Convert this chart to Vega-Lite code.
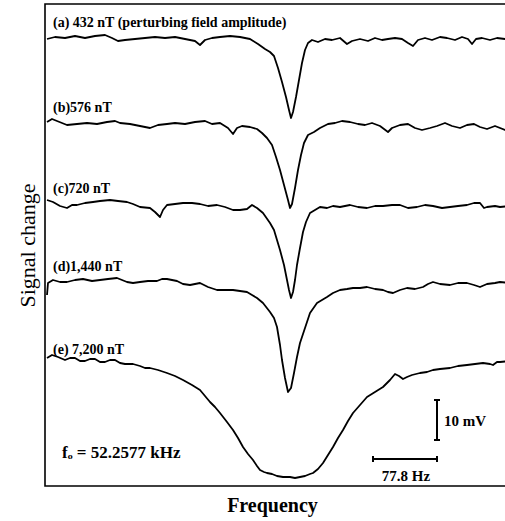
{
  "$schema": "https://vega.github.io/schema/vega-lite/v6.json",
  "width": 465,
  "height": 482,
  "autosize": "none",
  "padding": {"left": 45, "top": 4, "right": 0, "bottom": 35},
  "background": "white",
  "config": {
    "view": {"stroke": "black", "strokeWidth": 1.6},
    "axis": {"grid": false, "ticks": false, "labels": false, "domain": false, "titleColor": "black", "titleFont": "Liberation Serif"}
  },
  "datasets": {
    "traces": [
      {"t":"a","x":47,"y":-39},{"t":"a","x":55,"y":-37},{"t":"a","x":65,"y":-38},{"t":"a","x":75,"y":-36},{"t":"a","x":85,"y":-38},{"t":"a","x":95,"y":-36},{"t":"a","x":105,"y":-35},{"t":"a","x":112,"y":-38},{"t":"a","x":118,"y":-41},{"t":"a","x":125,"y":-40},{"t":"a","x":135,"y":-39},{"t":"a","x":145,"y":-38},{"t":"a","x":155,"y":-37},{"t":"a","x":165,"y":-38},{"t":"a","x":175,"y":-37},{"t":"a","x":185,"y":-39},{"t":"a","x":195,"y":-41},{"t":"a","x":200,"y":-45},{"t":"a","x":205,"y":-40},{"t":"a","x":212,"y":-38},{"t":"a","x":220,"y":-37},{"t":"a","x":230,"y":-36},{"t":"a","x":240,"y":-37},{"t":"a","x":250,"y":-39},{"t":"a","x":258,"y":-44},{"t":"a","x":265,"y":-49},{"t":"a","x":270,"y":-52},{"t":"a","x":274,"y":-56},{"t":"a","x":278,"y":-68},{"t":"a","x":282,"y":-82},{"t":"a","x":286,"y":-97},{"t":"a","x":289,"y":-110},{"t":"a","x":291,"y":-118},{"t":"a","x":293,"y":-112},{"t":"a","x":296,"y":-97},{"t":"a","x":299,"y":-80},{"t":"a","x":302,"y":-63},{"t":"a","x":305,"y":-50},{"t":"a","x":308,"y":-43},{"t":"a","x":312,"y":-40},{"t":"a","x":318,"y":-42},{"t":"a","x":325,"y":-39},{"t":"a","x":332,"y":-40},{"t":"a","x":340,"y":-38},{"t":"a","x":347,"y":-44},{"t":"a","x":352,"y":-41},{"t":"a","x":360,"y":-39},{"t":"a","x":368,"y":-41},{"t":"a","x":375,"y":-38},{"t":"a","x":382,"y":-40},{"t":"a","x":388,"y":-39},{"t":"a","x":395,"y":-38},{"t":"a","x":402,"y":-39},{"t":"a","x":408,"y":-43},{"t":"a","x":413,"y":-46},{"t":"a","x":418,"y":-40},{"t":"a","x":425,"y":-38},{"t":"a","x":432,"y":-40},{"t":"a","x":440,"y":-37},{"t":"a","x":447,"y":-38},{"t":"a","x":455,"y":-40},{"t":"a","x":462,"y":-37},{"t":"a","x":468,"y":-39},{"t":"a","x":472,"y":-44},{"t":"a","x":476,"y":-39},{"t":"a","x":482,"y":-38},{"t":"a","x":490,"y":-40},{"t":"a","x":497,"y":-38},{"t":"a","x":505,"y":-39},{"t":"a","x":510,"y":-38},
      {"t":"b","x":47,"y":-122},{"t":"b","x":52,"y":-119},{"t":"b","x":57,"y":-121},{"t":"b","x":67,"y":-125},{"t":"b","x":77,"y":-124},{"t":"b","x":87,"y":-123},{"t":"b","x":97,"y":-124},{"t":"b","x":107,"y":-122},{"t":"b","x":115,"y":-121},{"t":"b","x":120,"y":-123},{"t":"b","x":130,"y":-124},{"t":"b","x":140,"y":-126},{"t":"b","x":150,"y":-128},{"t":"b","x":158,"y":-125},{"t":"b","x":167,"y":-124},{"t":"b","x":175,"y":-123},{"t":"b","x":185,"y":-124},{"t":"b","x":195,"y":-122},{"t":"b","x":205,"y":-121},{"t":"b","x":212,"y":-124},{"t":"b","x":220,"y":-123},{"t":"b","x":228,"y":-128},{"t":"b","x":233,"y":-134},{"t":"b","x":237,"y":-128},{"t":"b","x":242,"y":-126},{"t":"b","x":250,"y":-127},{"t":"b","x":257,"y":-129},{"t":"b","x":262,"y":-133},{"t":"b","x":267,"y":-138},{"t":"b","x":272,"y":-145},{"t":"b","x":276,"y":-157},{"t":"b","x":280,"y":-170},{"t":"b","x":284,"y":-185},{"t":"b","x":288,"y":-200},{"t":"b","x":290,"y":-208},{"t":"b","x":292,"y":-204},{"t":"b","x":295,"y":-188},{"t":"b","x":298,"y":-170},{"t":"b","x":301,"y":-155},{"t":"b","x":304,"y":-143},{"t":"b","x":308,"y":-135},{"t":"b","x":314,"y":-132},{"t":"b","x":320,"y":-128},{"t":"b","x":328,"y":-124},{"t":"b","x":335,"y":-123},{"t":"b","x":342,"y":-121},{"t":"b","x":350,"y":-122},{"t":"b","x":358,"y":-124},{"t":"b","x":365,"y":-125},{"t":"b","x":372,"y":-123},{"t":"b","x":380,"y":-126},{"t":"b","x":388,"y":-132},{"t":"b","x":392,"y":-128},{"t":"b","x":400,"y":-125},{"t":"b","x":408,"y":-124},{"t":"b","x":415,"y":-128},{"t":"b","x":422,"y":-130},{"t":"b","x":430,"y":-128},{"t":"b","x":437,"y":-126},{"t":"b","x":445,"y":-123},{"t":"b","x":452,"y":-126},{"t":"b","x":460,"y":-128},{"t":"b","x":467,"y":-125},{"t":"b","x":474,"y":-124},{"t":"b","x":480,"y":-127},{"t":"b","x":487,"y":-129},{"t":"b","x":495,"y":-126},{"t":"b","x":505,"y":-130},{"t":"b","x":510,"y":-128},
      {"t":"c","x":47,"y":-200},{"t":"c","x":53,"y":-202},{"t":"c","x":60,"y":-206},{"t":"c","x":67,"y":-208},{"t":"c","x":72,"y":-205},{"t":"c","x":77,"y":-205},{"t":"c","x":85,"y":-203},{"t":"c","x":93,"y":-202},{"t":"c","x":100,"y":-201},{"t":"c","x":110,"y":-200},{"t":"c","x":118,"y":-201},{"t":"c","x":127,"y":-202},{"t":"c","x":133,"y":-204},{"t":"c","x":140,"y":-207},{"t":"c","x":150,"y":-208},{"t":"c","x":155,"y":-212},{"t":"c","x":160,"y":-217},{"t":"c","x":163,"y":-210},{"t":"c","x":167,"y":-205},{"t":"c","x":175,"y":-204},{"t":"c","x":183,"y":-203},{"t":"c","x":192,"y":-203},{"t":"c","x":200,"y":-204},{"t":"c","x":208,"y":-206},{"t":"c","x":217,"y":-205},{"t":"c","x":225,"y":-207},{"t":"c","x":233,"y":-210},{"t":"c","x":240,"y":-210},{"t":"c","x":247,"y":-209},{"t":"c","x":252,"y":-205},{"t":"c","x":257,"y":-208},{"t":"c","x":263,"y":-213},{"t":"c","x":270,"y":-223},{"t":"c","x":274,"y":-230},{"t":"c","x":277,"y":-240},{"t":"c","x":280,"y":-250},{"t":"c","x":284,"y":-265},{"t":"c","x":287,"y":-280},{"t":"c","x":289,"y":-290},{"t":"c","x":291,"y":-298},{"t":"c","x":293,"y":-292},{"t":"c","x":295,"y":-280},{"t":"c","x":297,"y":-265},{"t":"c","x":300,"y":-248},{"t":"c","x":303,"y":-232},{"t":"c","x":306,"y":-222},{"t":"c","x":310,"y":-213},{"t":"c","x":315,"y":-210},{"t":"c","x":320,"y":-207},{"t":"c","x":327,"y":-208},{"t":"c","x":333,"y":-206},{"t":"c","x":340,"y":-207},{"t":"c","x":350,"y":-205},{"t":"c","x":358,"y":-207},{"t":"c","x":367,"y":-208},{"t":"c","x":375,"y":-206},{"t":"c","x":383,"y":-206},{"t":"c","x":392,"y":-205},{"t":"c","x":400,"y":-205},{"t":"c","x":408,"y":-208},{"t":"c","x":417,"y":-207},{"t":"c","x":425,"y":-205},{"t":"c","x":433,"y":-206},{"t":"c","x":442,"y":-208},{"t":"c","x":450,"y":-207},{"t":"c","x":458,"y":-206},{"t":"c","x":467,"y":-205},{"t":"c","x":474,"y":-203},{"t":"c","x":480,"y":-203},{"t":"c","x":484,"y":-208},{"t":"c","x":487,"y":-207},{"t":"c","x":495,"y":-206},{"t":"c","x":500,"y":-207},{"t":"c","x":510,"y":-206},
      {"t":"d","x":47,"y":-295},{"t":"d","x":48,"y":-283},{"t":"d","x":53,"y":-280},{"t":"d","x":60,"y":-282},{"t":"d","x":67,"y":-282},{"t":"d","x":75,"y":-280},{"t":"d","x":83,"y":-279},{"t":"d","x":92,"y":-281},{"t":"d","x":100,"y":-280},{"t":"d","x":108,"y":-279},{"t":"d","x":117,"y":-278},{"t":"d","x":122,"y":-280},{"t":"d","x":127,"y":-282},{"t":"d","x":133,"y":-283},{"t":"d","x":140,"y":-282},{"t":"d","x":148,"y":-281},{"t":"d","x":157,"y":-281},{"t":"d","x":162,"y":-279},{"t":"d","x":167,"y":-279},{"t":"d","x":172,"y":-280},{"t":"d","x":177,"y":-281},{"t":"d","x":183,"y":-284},{"t":"d","x":190,"y":-285},{"t":"d","x":195,"y":-284},{"t":"d","x":200,"y":-283},{"t":"d","x":208,"y":-287},{"t":"d","x":217,"y":-290},{"t":"d","x":225,"y":-290},{"t":"d","x":233,"y":-290},{"t":"d","x":240,"y":-291},{"t":"d","x":247,"y":-292},{"t":"d","x":252,"y":-295},{"t":"d","x":257,"y":-298},{"t":"d","x":263,"y":-303},{"t":"d","x":270,"y":-312},{"t":"d","x":274,"y":-318},{"t":"d","x":277,"y":-327},{"t":"d","x":280,"y":-345},{"t":"d","x":282,"y":-360},{"t":"d","x":285,"y":-378},{"t":"d","x":288,"y":-392},{"t":"d","x":291,"y":-388},{"t":"d","x":294,"y":-373},{"t":"d","x":297,"y":-357},{"t":"d","x":300,"y":-343},{"t":"d","x":305,"y":-328},{"t":"d","x":310,"y":-313},{"t":"d","x":317,"y":-303},{"t":"d","x":322,"y":-300},{"t":"d","x":327,"y":-297},{"t":"d","x":333,"y":-293},{"t":"d","x":340,"y":-290},{"t":"d","x":347,"y":-289},{"t":"d","x":353,"y":-288},{"t":"d","x":360,"y":-288},{"t":"d","x":367,"y":-287},{"t":"d","x":375,"y":-289},{"t":"d","x":383,"y":-290},{"t":"d","x":388,"y":-292},{"t":"d","x":393,"y":-293},{"t":"d","x":400,"y":-290},{"t":"d","x":407,"y":-288},{"t":"d","x":415,"y":-289},{"t":"d","x":423,"y":-287},{"t":"d","x":428,"y":-284},{"t":"d","x":433,"y":-282},{"t":"d","x":440,"y":-284},{"t":"d","x":450,"y":-285},{"t":"d","x":458,"y":-283},{"t":"d","x":467,"y":-283},{"t":"d","x":474,"y":-285},{"t":"d","x":480,"y":-287},{"t":"d","x":487,"y":-284},{"t":"d","x":495,"y":-283},{"t":"d","x":500,"y":-282},{"t":"d","x":510,"y":-283},
      {"t":"e","x":47,"y":-358},{"t":"e","x":52,"y":-355},{"t":"e","x":58,"y":-357},{"t":"e","x":65,"y":-360},{"t":"e","x":70,"y":-358},{"t":"e","x":75,"y":-358},{"t":"e","x":80,"y":-361},{"t":"e","x":85,"y":-361},{"t":"e","x":90,"y":-359},{"t":"e","x":95,"y":-359},{"t":"e","x":100,"y":-362},{"t":"e","x":105,"y":-362},{"t":"e","x":110,"y":-360},{"t":"e","x":115,"y":-360},{"t":"e","x":120,"y":-363},{"t":"e","x":125,"y":-364},{"t":"e","x":133,"y":-364},{"t":"e","x":140,"y":-366},{"t":"e","x":145,"y":-368},{"t":"e","x":150,"y":-368},{"t":"e","x":158,"y":-370},{"t":"e","x":167,"y":-373},{"t":"e","x":175,"y":-376},{"t":"e","x":183,"y":-380},{"t":"e","x":192,"y":-385},{"t":"e","x":200,"y":-390},{"t":"e","x":205,"y":-396},{"t":"e","x":210,"y":-402},{"t":"e","x":215,"y":-407},{"t":"e","x":220,"y":-413},{"t":"e","x":227,"y":-422},{"t":"e","x":233,"y":-430},{"t":"e","x":238,"y":-438},{"t":"e","x":243,"y":-447},{"t":"e","x":248,"y":-454},{"t":"e","x":253,"y":-460},{"t":"e","x":257,"y":-466},{"t":"e","x":260,"y":-470},{"t":"e","x":264,"y":-472},{"t":"e","x":267,"y":-473},{"t":"e","x":272,"y":-474},{"t":"e","x":277,"y":-476},{"t":"e","x":283,"y":-477},{"t":"e","x":290,"y":-477},{"t":"e","x":295,"y":-478},{"t":"e","x":300,"y":-477},{"t":"e","x":305,"y":-476},{"t":"e","x":310,"y":-474},{"t":"e","x":313,"y":-473},{"t":"e","x":318,"y":-469},{"t":"e","x":323,"y":-463},{"t":"e","x":328,"y":-455},{"t":"e","x":333,"y":-447},{"t":"e","x":338,"y":-438},{"t":"e","x":343,"y":-430},{"t":"e","x":348,"y":-421},{"t":"e","x":353,"y":-413},{"t":"e","x":360,"y":-405},{"t":"e","x":367,"y":-397},{"t":"e","x":375,"y":-392},{"t":"e","x":383,"y":-387},{"t":"e","x":390,"y":-380},{"t":"e","x":395,"y":-374},{"t":"e","x":399,"y":-376},{"t":"e","x":403,"y":-379},{"t":"e","x":407,"y":-377},{"t":"e","x":412,"y":-375},{"t":"e","x":420,"y":-373},{"t":"e","x":427,"y":-372},{"t":"e","x":433,"y":-370},{"t":"e","x":440,"y":-369},{"t":"e","x":450,"y":-368},{"t":"e","x":458,"y":-366},{"t":"e","x":467,"y":-365},{"t":"e","x":475,"y":-364},{"t":"e","x":483,"y":-363},{"t":"e","x":490,"y":-364},{"t":"e","x":493,"y":-365},{"t":"e","x":497,"y":-362},{"t":"e","x":500,"y":-362},{"t":"e","x":510,"y":-361}
    ],
    "labels": [
      {"x":53,"y":-23,"label":"(a) 432 nT (perturbing field amplitude)"},
      {"x":53,"y":-108,"label":"(b)576 nT"},
      {"x":53,"y":-189,"label":"(c)720 nT"},
      {"x":53,"y":-267,"label":"(d)1,440 nT"},
      {"x":53,"y":-350,"label":"(e) 7,200 nT"}
    ],
    "fnote": [
      {"x":62,"y":-453,"label":"fₒ = 52.2577 kHz"}
    ],
    "leftnotes": [
      {"x":444,"y":-421,"label":"10 mV"}
    ],
    "centernotes": [
      {"x":406,"y":-476,"label":"77.8 Hz"}
    ],
    "bars": [
      {"x":437,"x2":437,"y":-400,"y2":-440},
      {"x":434,"x2":440,"y":-400,"y2":-400},
      {"x":434,"x2":440,"y":-440,"y2":-440},
      {"x":373,"x2":437,"y":-459,"y2":-459},
      {"x":373,"x2":373,"y":-456,"y2":-462},
      {"x":437,"x2":437,"y":-456,"y2":-462}
    ]
  },
  "encoding": {
    "x": {"field": "x", "type": "quantitative", "scale": {"domain": [45, 510], "nice": false, "zero": false}, "axis": {"title": "Frequency", "titleFontSize": 20, "titleFontWeight": "bold", "titlePadding": 9, "titleX": 227, "titleAlign": "center", "titleAnchor": "start"}},
    "y": {"field": "y", "type": "quantitative", "scale": {"domain": [-486, -4], "nice": false, "zero": false}, "axis": {"title": "Signal change", "titleFontSize": 22, "titleFontWeight": "normal", "titlePadding": 6}}
  },
  "layer": [
    {
      "data": {"name": "traces"},
      "mark": {"type": "line", "stroke": "black", "strokeWidth": 1.8, "strokeJoin": "round", "clip": true},
      "encoding": {"detail": {"field": "t"}}
    },
    {
      "data": {"name": "labels"},
      "mark": {"type": "text", "align": "left", "baseline": "middle", "font": "Liberation Serif", "fontSize": 14, "fontWeight": "bold", "color": "black"},
      "encoding": {"text": {"field": "label"}}
    },
    {
      "data": {"name": "fnote"},
      "mark": {"type": "text", "align": "left", "baseline": "middle", "font": "Liberation Serif", "fontSize": 17, "fontWeight": "bold", "color": "black"},
      "encoding": {"text": {"field": "label"}}
    },
    {
      "data": {"name": "leftnotes"},
      "mark": {"type": "text", "align": "left", "baseline": "middle", "font": "Liberation Serif", "fontSize": 15, "fontWeight": "bold", "color": "black"},
      "encoding": {"text": {"field": "label"}}
    },
    {
      "data": {"name": "centernotes"},
      "mark": {"type": "text", "align": "center", "baseline": "middle", "font": "Liberation Serif", "fontSize": 15, "fontWeight": "bold", "color": "black"},
      "encoding": {"text": {"field": "label"}}
    },
    {
      "data": {"name": "bars"},
      "mark": {"type": "rule", "stroke": "black", "strokeWidth": 2},
      "encoding": {"x2": {"field": "x2"}, "y2": {"field": "y2"}}
    }
  ]
}
